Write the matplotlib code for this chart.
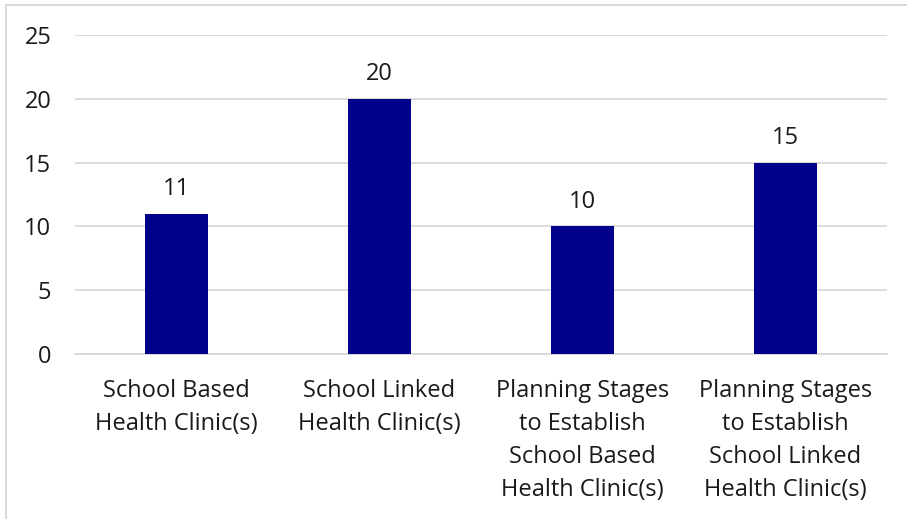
import matplotlib
matplotlib.use('Agg')
import matplotlib.pyplot as plt
from matplotlib.patches import Rectangle
import numpy as np

plt.rcParams['font.family'] = ['Open Sans', 'DejaVu Sans']

categories = ['School Based\nHealth Clinic(s)',
              'School Linked\nHealth Clinic(s)',
              'Planning Stages\nto Establish\nSchool Based\nHealth Clinic(s)',
              'Planning Stages\nto Establish\nSchool Linked\nHealth Clinic(s)']
values = [11, 20, 10, 15]
yticks = [0, 5, 10, 15, 20, 25]

fig = plt.figure(figsize=(9.07, 5.19), dpi=100)
ax = fig.add_axes([75/907, 1-354/519, 812/907, 319/519])

x = np.arange(len(values))
ax.bar(x, values, width=0.31, color='#00008B', zorder=3)
for xi, v in zip(x, values):
    ax.text(xi, v + 1.0, str(v), ha='center', va='bottom', fontsize=17, color='#1a1a1a')

ax.set_xlim(-0.5, len(values) - 0.5)
ax.set_ylim(0, 25)
ax.set_yticks(yticks)
ax.set_xticks(x)
ax.set_xticklabels(categories, linespacing=1.5)
ax.tick_params(axis='both', length=0, labelsize=17, colors='#1a1a1a')
ax.tick_params(axis='y', pad=17)
ax.tick_params(axis='x', pad=18)
ax.grid(axis='y', color='#d9d9d9', linewidth=1.3, zorder=0)
for s in ['top', 'right', 'left']:
    ax.spines[s].set_visible(False)
ax.spines['bottom'].set_color('#d9d9d9')
ax.spines['bottom'].set_linewidth(1.3)

fig.patches.append(Rectangle((5.5/907, -0.1), 1.2, 1.1 - 5.5/519, transform=fig.transFigure,
                             fill=False, edgecolor='#d9d9d9', linewidth=1.5))

fig.savefig('out.png', dpi=100)
